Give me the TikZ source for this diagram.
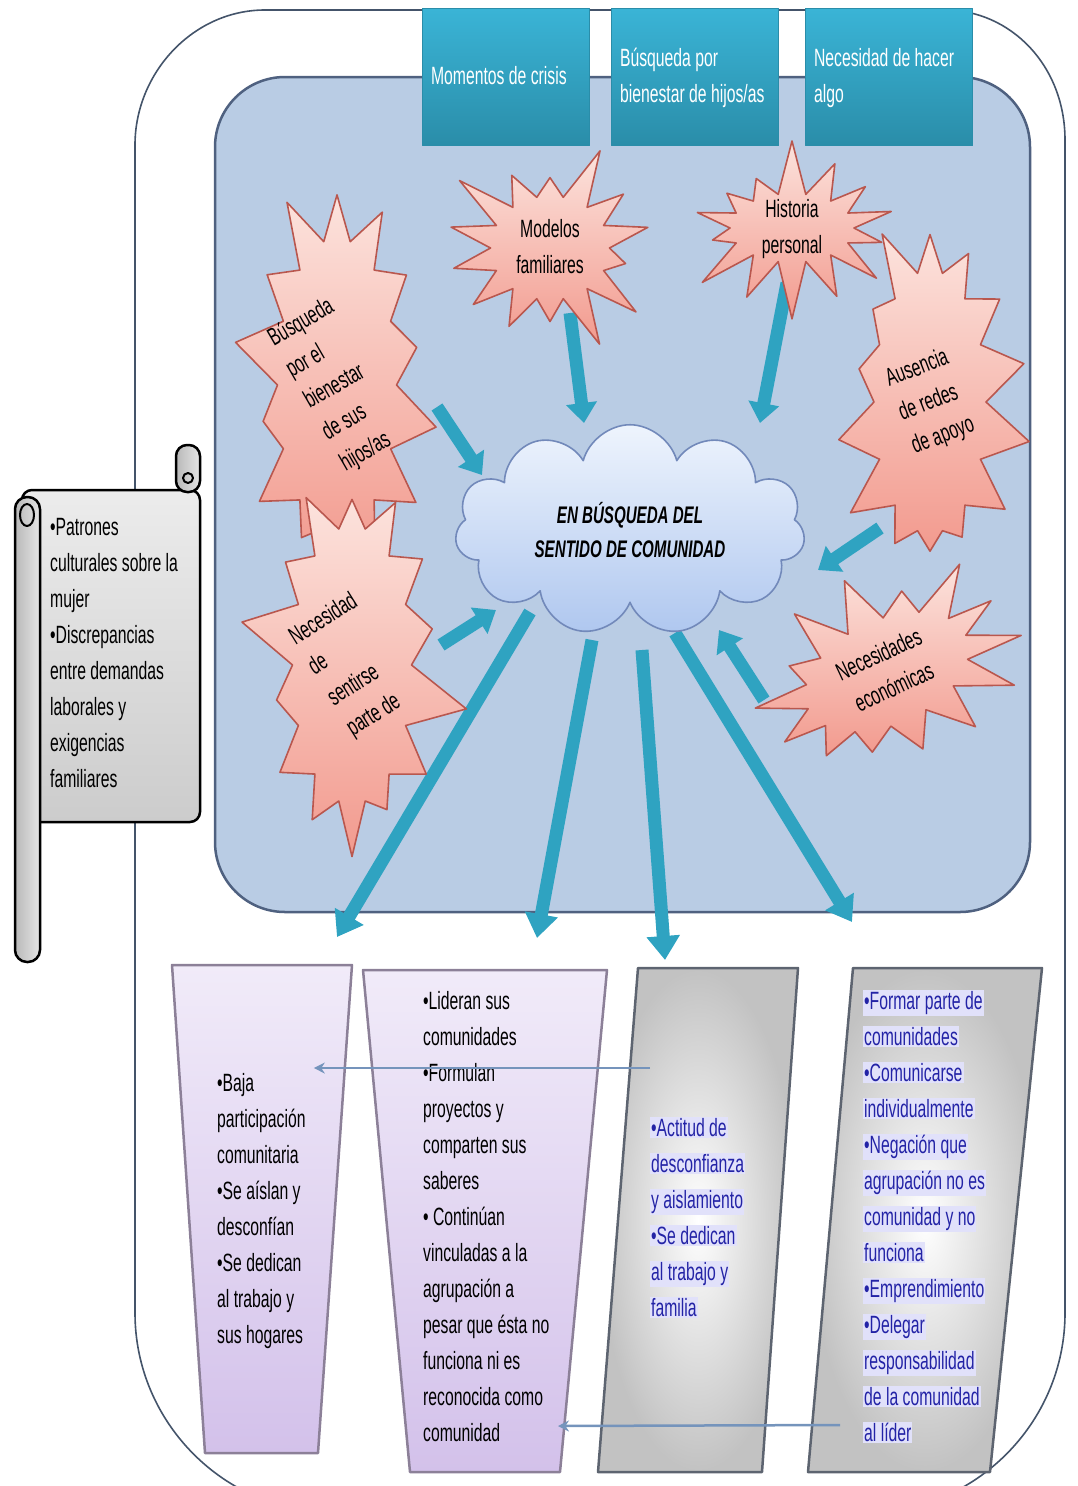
\documentclass[tikz,border=0pt]{standalone}
\usepackage{fontspec}
\setmainfont{Liberation Sans}[FakeStretch=0.63]
\usetikzlibrary{shapes.symbols,arrows.meta,calc,backgrounds}

\definecolor{framecol}{HTML}{44546A}
\definecolor{panelfill}{HTML}{B9CCE4}
\definecolor{panelline}{HTML}{4F6180}
\definecolor{tealtop}{HTML}{3AB4D6}
\definecolor{tealbot}{HTML}{2A8DA9}
\definecolor{startop}{HTML}{FCE3DD}
\definecolor{starbot}{HTML}{F29A8E}
\definecolor{starline}{HTML}{B9574E}
\definecolor{cloudtop}{HTML}{EEF4FD}
\definecolor{cloudbot}{HTML}{AFC7EF}
\definecolor{cloudline}{HTML}{7289BA}
\definecolor{arrowteal}{HTML}{2FA3C1}
\definecolor{lavtop}{HTML}{F1EBF9}
\definecolor{lavbot}{HTML}{D3C1EA}
\definecolor{lavline}{HTML}{8C8098}
\definecolor{grayline}{HTML}{5D6470}
\definecolor{bluetext}{HTML}{2323A6}
\definecolor{hlblue}{HTML}{E1E1FA}
\definecolor{linkcol}{HTML}{7594BC}

\setlength\fboxsep{1pt}
\newcommand\hlb[1]{\colorbox{hlblue}{#1}}
\newcommand\toplines[1]{\makebox[150pt][l]{\begin{tabular}{@{}l@{}}#1\end{tabular}}}
\newsavebox\burstbox
\newcommand\burstlines[3]{\sbox\burstbox{\rotatebox{#1}{\begin{tabular}{@{}#2@{}}#3\end{tabular}}}%
  \makebox[0pt]{\raisebox{\dimexpr(\dp\burstbox-\ht\burstbox)/2\relax}[0pt][0pt]{\usebox\burstbox}}}

\tikzset{
  frameline/.style={draw=framecol, line width=1.6pt},
  panel/.style={draw=panelline, line width=2.5pt, fill=panelfill, rounded corners=70pt},
  topbox/.style={rectangle, top color=tealtop, bottom color=tealbot, draw=tealbot,
    minimum width=167pt, minimum height=137pt, inner xsep=8.5pt, text=white},
  burst/.style={starburst, starburst points=14, starburst point height=58pt,
    top color=startop, bottom color=starbot, draw=starline, line width=1.6pt,
    inner sep=0pt},
  thought/.style={cloud, cloud puffs=11, aspect=1.7, minimum width=350pt,
    minimum height=210pt, inner sep=0pt, top color=cloudtop, bottom color=cloudbot,
    draw=cloudline, line width=1.6pt, align=center,
    font=\bfseries\itshape\fontsize{24}{34}\selectfont},
  inarrow/.style={draw=arrowteal, line width=13pt, -{Triangle[length=20pt,width=30pt]}},
  outarrow/.style={draw=arrowteal, line width=13pt, -{Triangle[length=24pt,width=32pt]}},
  lavbox/.style={top color=lavtop, bottom color=lavbot, draw=lavline, line width=2.5pt},
  graybox/.style={inner color=white, outer color=gray!48, draw=grayline, line width=2.5pt},
  boxtext/.style={anchor=north west, align=left, inner sep=0pt},
  linkarrow/.style={draw=linkcol, line width=2.5pt, -{Stealth[length=11pt,width=11pt]}},
  scrollbody/.style={draw=black, line width=2.5pt, top color=gray!15, bottom color=gray!40},
  scrollroll/.style={draw=black, line width=2.5pt, left color=gray!55, right color=gray!20}
}

\begin{document}
\begin{tikzpicture}[x=1pt, y=-1pt, font=\fontsize{25}{36}\selectfont, line join=round]
\useasboundingbox (0,0) rectangle (1077,1486);

\begin{scope}[on background layer]
\draw[frameline] (135,1313) -- (135,145) .. controls (135,73) and (193,10) .. (265,10)
  -- (945,10) .. controls (1010,10) and (1065,65) .. (1065,140) -- (1065,1313)
  .. controls (1065,1423) and (975,1513) .. (865,1513) -- (335,1513)
  .. controls (225,1513) and (135,1423) .. (135,1313) -- cycle;
\draw[panel] (215,77) rectangle (1030,912);
\end{scope}

\node[topbox] (crisis) at (506,77) {\toplines{Momentos de crisis}};
\node[topbox] (hijos) at (695,77) {\toplines{Búsqueda por\\bienestar de hijos/as}};
\node[topbox] (hacer) at (889,77) {\toplines{Necesidad de hacer\\algo}};

\node[burst, minimum width=235pt, minimum height=220pt, random starburst=3] (modelos) at (550,248) {\burstlines{0}{c}{Modelos\\familiares}};
\node[burst, minimum width=240pt, minimum height=185pt, random starburst=7] (historia) at (792,228) {\burstlines{0}{c}{Historia\\personal}};
\node[burst, minimum width=235pt, minimum height=410pt, random starburst=11] (bienestar) at (337,385) {\burstlines{30}{l}{Búsqueda\\por el\\bienestar\\de sus\\hijos/as}};
\node[burst, minimum width=228pt, minimum height=380pt, random starburst=5] (redes) at (930,402) {\burstlines{21}{l}{Ausencia\\de redes\\de apoyo}};
\node[burst, minimum width=235pt, minimum height=395pt, random starburst=9] (sentirse) at (352,665) {\burstlines{32}{l}{Necesidad\\de\\sentirse\\parte de}};
\node[burst, minimum width=290pt, minimum height=220pt, random starburst=4, rotate=25] (economia) at (887,672) {\burstlines{0}{c}{Necesidades\\económicas}};

\node[thought] (sentido) at (630,530) {EN BÚSQUEDA DEL\\SENTIDO DE COMUNIDAD};

\coordinate (A-nw) at (172,965);
\coordinate (A-ne) at (352,965);
\coordinate (A-se) at (318,1453);
\coordinate (A-sw) at (205,1453);
\coordinate (B-nw) at (363,970);
\coordinate (B-ne) at (607,970);
\coordinate (B-se) at (560,1472);
\coordinate (B-sw) at (410,1472);
\coordinate (C-nw) at (638,968);
\coordinate (C-ne) at (798,968);
\coordinate (C-se) at (762,1472);
\coordinate (C-sw) at (598,1472);
\coordinate (D-nw) at (853,968);
\coordinate (D-ne) at (1042,968);
\coordinate (D-se) at (990,1472);
\coordinate (D-sw) at (808,1472);

\begin{scope}[on background layer]
\foreach \from/\fx/\fy/\tx/\ty in {modelos/20/65/-46/-107, historia/-5/55/130/-107,
  bienestar/100/22/-148/-55, redes/-50/126/188/40, sentirse/89/-20/-134/80,
  economia/-123/28/89/100}
\draw[inarrow]
($(\from)+(\fx,\fy)$)--($(sentido)+(\tx,\ty)$)
;
\foreach \fx/\fy/\to/\tx/\ty in {-100/82/A-ne/-15/-28, -38/110/B-nw/174/-32,
  12/120/C-nw/27/-8, 45/103/D-nw/-1/-46}
\draw[outarrow]
($(sentido)+(\fx,\fy)$)--($(\to)+(\tx,\ty)$)
;
\end{scope}

\path[lavbox] (A-nw) -- (A-ne) -- (A-se) -- (A-sw) -- cycle;
\path[lavbox] (B-nw) -- (B-ne) -- (B-se) -- (B-sw) -- cycle;
\path[graybox] (C-nw) -- (C-ne) -- (C-se) -- (C-sw) -- cycle;
\path[graybox] (D-nw) -- (D-ne) -- (D-se) -- (D-sw) -- cycle;

\node[boxtext] (baja) at (217,1073) {•Baja\\participación\\comunitaria\\•Se aíslan y\\desconfían\\•Se dedican\\al trabajo y\\sus hogares};
\node[boxtext] (lideran) at (423,991) {•Lideran sus\\comunidades\\•Formulan\\proyectos y\\comparten sus\\saberes\\• Continúan\\vinculadas a la\\agrupación a\\pesar que ésta no\\funciona ni es\\reconocida como\\comunidad};
\node[boxtext, text=bluetext] (actitud) at (650,1117) {\hlb{•Actitud de}\\\hlb{desconfianza}\\\hlb{y aislamiento}\\\hlb{•Se dedican}\\\hlb{al trabajo y}\\\hlb{familia}};
\node[boxtext, text=bluetext] (formar) at (863,990) {\hlb{•Formar parte de}\\\hlb{comunidades}\\\hlb{•Comunicarse}\\\hlb{individualmente}\\\hlb{•Negación que}\\\hlb{agrupación no es}\\\hlb{comunidad y no}\\\hlb{funciona}\\\hlb{•Emprendimiento}\\\hlb{•Delegar}\\\hlb{responsabilidad}\\\hlb{de la comunidad}\\\hlb{al líder}};

\draw[linkarrow] ($(actitud.north west)+(0,-49)$) -- ($(baja.north east)+(8,-5)$);
\draw[linkarrow] ($(formar.north west)+(-23,435)$) -- ($(lideran.north west)+(135,435)$);

\draw[scrollbody, rounded corners=10pt] (22,490) rectangle (200,822);
\draw[scrollroll, rounded corners=11pt] (176,445) rectangle (200,492);
\draw[line width=2pt] (188,478) circle (5pt);
\draw[scrollroll, rounded corners=12pt] (15,497) rectangle (40,962);
\draw[line width=2pt] (27,515) ellipse [x radius=7pt, y radius=11pt];
\node[boxtext] (patrones) at (50,518) {•Patrones\\culturales sobre la\\mujer\\•Discrepancias\\entre demandas\\laborales y\\exigencias\\familiares};
\end{tikzpicture}
\end{document}
